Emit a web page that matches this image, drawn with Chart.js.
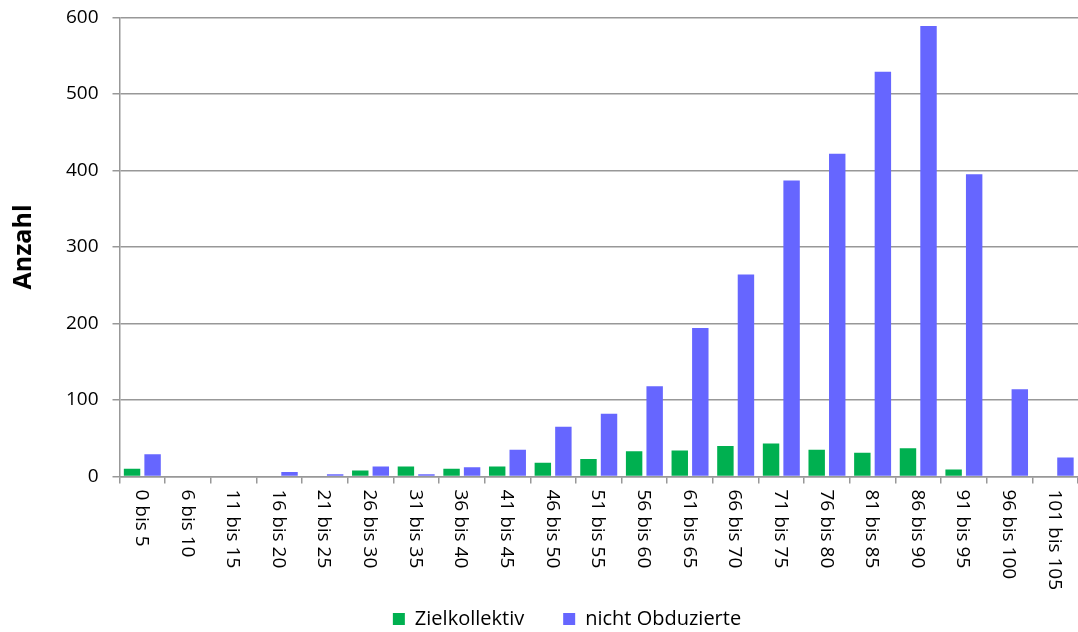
<!DOCTYPE html>
<html>
<head>
<meta charset="utf-8">
<script src="https://cdn.jsdelivr.net/npm/chart.js@4/dist/chart.umd.min.js"></script>
<style>
  html, body { margin: 0; padding: 0; background: #fff; }
  #wrap { width: 1078px; height: 632px; }
</style>
</head>
<body>
<div id="wrap"><canvas id="c" width="1078" height="632"></canvas></div>
<script>
// Altersgruppen (Jahre)
const categories = [
  '0 bis 5', '6 bis 10', '11 bis 15', '16 bis 20', '21 bis 25', '26 bis 30',
  '31 bis 35', '36 bis 40', '41 bis 45', '46 bis 50', '51 bis 55', '56 bis 60',
  '61 bis 65', '66 bis 70', '71 bis 75', '76 bis 80', '81 bis 85', '86 bis 90',
  '91 bis 95', '96 bis 100', '101 bis 105'
];
const zielkollektiv = [10, 0, 0, 0, 0, 8, 13, 10, 13, 18, 23, 33, 34, 40, 43, 35, 31, 37, 9, 0, 0];
const nichtObduzierte = [29, 0, 0, 6, 3, 13, 3, 12, 35, 65, 82, 118, 194, 264, 387, 422, 529, 589, 395, 114, 25];
const yTicks = [0, 100, 200, 300, 400, 500, 600];

const FONT = "'Open Sans', 'DejaVu Sans', sans-serif";
const AXIS_GREY = '#989898';

// Category labels written top-to-bottom under each group
const verticalLabels = {
  id: 'verticalLabels',
  afterDraw(chart) {
    const x = chart.scales.x;
    const ctx = chart.ctx;
    ctx.save();
    ctx.font = '19px ' + FONT;
    ctx.fillStyle = '#000';
    ctx.textAlign = 'left';
    ctx.textBaseline = 'middle';
    x.ticks.forEach((t, i) => {
      const px = x.getPixelForTick(i);
      ctx.save();
      ctx.translate(px - 1, x.top + 13);
      ctx.rotate(Math.PI / 2);
      ctx.fillText(categories[i], 0, 0);
      ctx.restore();
    });
    ctx.restore();
  }
};

// Moves the legend row under the plot centre
const legendOffset = {
  id: 'legendOffset',
  afterLayout(chart) {
    const lg = chart.legend;
    if (!lg) return;
    lg.left += 28; lg.right += 28;
    lg.top += 7; lg.bottom += 7;
  }
};

new Chart(document.getElementById('c'), {
  type: 'bar',
  data: {
    labels: categories,
    datasets: [
      { label: 'Zielkollektiv', data: zielkollektiv, backgroundColor: '#00b050', borderWidth: 0 },
      { label: 'nicht Obduzierte', data: nichtObduzierte, backgroundColor: '#6666ff', borderWidth: 0 }
    ]
  },
  options: {
    responsive: false,
    devicePixelRatio: 1,
    animation: false,
    categoryPercentage: 0.9,
    barPercentage: 0.8,
    layout: { padding: { top: 17.5, right: 0, bottom: 0, left: 0 } },
    plugins: {
      tooltip: { enabled: false },
      legend: {
        position: 'bottom',
        labels: {
          font: { family: FONT, size: 20 },
          color: '#000',
          boxWidth: 12,
          boxHeight: 12,
          padding: 39
        }
      }
    },
    scales: {
      x: {
        afterFit(scale) { scale.height = 86.5; },
        ticks: { display: false },
        grid: { display: true, drawOnChartArea: false, drawTicks: true, tickLength: 7, color: AXIS_GREY, lineWidth: 1.5, offset: true },
        border: { display: true, color: AXIS_GREY, width: 1.5 }
      },
      y: {
        min: 0,
        max: 600,
        afterFit(scale) {
          scale.width = 119.5;
          scale.paddingTop = 12;
          scale.paddingBottom = 12;
        },
        afterBuildTicks(scale) { scale.ticks = yTicks.map(v => ({ value: v })); },
        ticks: { font: { family: FONT, size: 19 }, color: '#000', padding: 14 },
        grid: { color: AXIS_GREY, lineWidth: 1.5, tickLength: 7, drawTicks: true },
        border: { display: true, color: AXIS_GREY, width: 1.5 },
        title: {
          display: true,
          text: 'Anzahl',
          color: '#000',
          font: { family: FONT, size: 25, weight: 'bold' },
          padding: { top: 9, bottom: 0 }
        }
      }
    }
  },
  plugins: [verticalLabels, legendOffset]
});
</script>
</body>
</html>
